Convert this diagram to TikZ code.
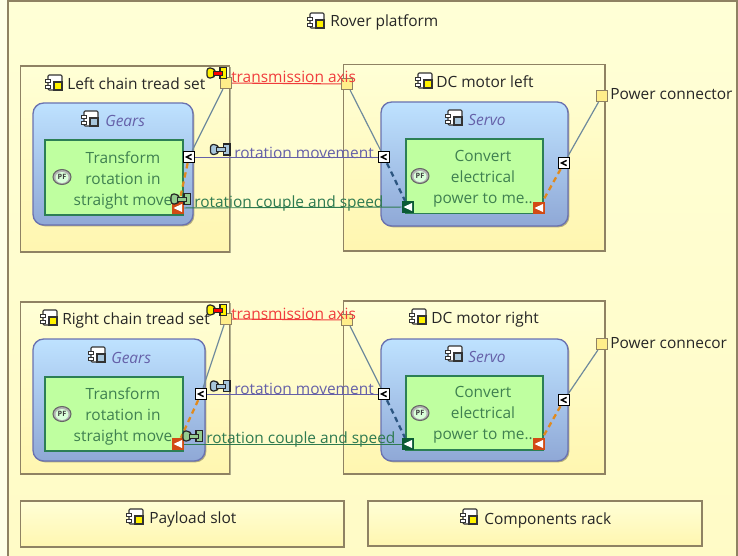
\documentclass[tikz,border=0pt]{standalone}
\usepackage{fontspec}
\setmainfont{Open Sans}
\usetikzlibrary{shadows,calc}
\pgfdeclarelayer{bg}
\pgfdeclarelayer{mid}
\pgfsetlayers{bg,mid,main}
\definecolor{bordbrown}{HTML}{8F8263}
\definecolor{yeltop}{HTML}{FFFFD6}
\definecolor{yelbot}{HTML}{FFF6B0}
\definecolor{rootbot}{HTML}{FFFBC6}
\definecolor{bluetop}{HTML}{BEE2FF}
\definecolor{bluebot}{HTML}{8FA8D6}
\definecolor{blueline}{HTML}{6A72B0}
\definecolor{fungreen}{HTML}{BFFFA0}
\definecolor{fungreenline}{HTML}{2C7F55}
\definecolor{funtext}{HTML}{3F8050}
\definecolor{redlink}{HTML}{F03C3C}
\definecolor{purplelink}{HTML}{6560A8}
\definecolor{greenlink}{HTML}{2E7A50}
\definecolor{greylink}{HTML}{6F8A9C}
\definecolor{orangedash}{HTML}{E08A1E}
\definecolor{bluedash}{HTML}{2C5580}
\definecolor{portyel}{HTML}{FFEE8A}
\definecolor{portred}{HTML}{D24A14}
\definecolor{portgreen}{HTML}{0B5A35}
\definecolor{iconblue}{HTML}{A8C6DC}
\definecolor{icongreen}{HTML}{94CC8E}
\tikzset{
  x=0.75pt,y=-0.75pt,
  txt/.style={inner sep=0pt,font=\fontsize{11.6}{13}\selectfont,text=black!85},
  boxy/.style={draw=bordbrown,line width=1pt,top color=yeltop,bottom color=yelbot,inner sep=0pt,
     drop shadow={shadow xshift=1pt,shadow yshift=-1pt,opacity=.3,fill=black}},
  rootbox/.style={draw=bordbrown,line width=1pt,top color=yeltop,bottom color=rootbot,inner sep=0pt},
  compo/.style={draw=blueline,line width=1pt,rounded corners=8pt,top color=bluetop,bottom color=bluebot,inner sep=0pt,
     drop shadow={shadow xshift=1pt,shadow yshift=-1pt,opacity=.3,fill=black}},
  func/.style={draw=fungreenline,line width=.8pt,fill=fungreen,inner sep=0pt},
  yport/.style={draw=bordbrown,line width=.7pt,fill=portyel,minimum size=8.5pt,inner sep=0pt},
  wport/.style={draw=black,line width=.8pt,fill=white,minimum size=8.5pt,inner sep=0pt},
  tport/.style={fill=#1,minimum size=9pt,inner sep=0pt},
  funcname/.style={txt,text=funtext,align=center,font=\fontsize{11.6}{15.75}\selectfont},
  ital/.style={txt,anchor=west,text=purplelink,font=\fontsize{11.6}{13}\itshape\selectfont},
  lred/.style={redlink,line width=.8pt},
  lpurple/.style={purplelink,line width=.7pt},
  lgreen/.style={greenlink,line width=.7pt},
  lgrey/.style={greylink,line width=.9pt},
  dorange/.style={orangedash,line width=1.7pt,dash pattern=on 4pt off 3pt},
  dblue/.style={bluedash,line width=1.7pt,dash pattern=on 4pt off 3pt},
}
\newcommand{\bx}[7][]{% options, name, style, x1,y1,x2,y2
  \pgfmathsetmacro{\bw}{(#6-#4)*0.75}\pgfmathsetmacro{\bh}{(#7-#5)*0.75}
  \node[#3,minimum width=\bw pt,minimum height=\bh pt,#1] (#2) at ({(#4+#6)/2},{(#5+#7)/2}) {};}
\newcommand{\cicon}[3]{\begin{scope}[shift={(#1,#2)}]
  \draw[black!80,line width=.8pt,fill=white,rounded corners=.8pt] (-6,-8) rectangle (8,7);
  \fill[#3] (0,-1) rectangle (8,7);
  \draw[black!80,line width=.8pt] (0,-1) rectangle (8,7);
  \draw[black!80,line width=.6pt,fill=white] (-9,-4) rectangle (-4,-1);
  \draw[black!80,line width=.6pt,fill=white] (-9,2) rectangle (-4,5);
\end{scope}}
% exchange icon: #3 ends, #4 middle
\newcommand{\xicon}[4]{\begin{scope}[shift={(#1,#2)}]
  \draw[black!85,line width=.9pt,fill=#3,rounded corners=2pt] (-10,-5) -- (-4,-5) -- (-2,-2) -- (-2,2) -- (-4,5) -- (-10,5) -- cycle;
  \draw[black!85,line width=.9pt,fill=#3] (3,-5.5) rectangle (9.5,5.5);
  \draw[black!85,line width=.6pt,fill=#4] (-4,-2) rectangle (5,2);
\end{scope}}
\newcommand{\wchev}[2]{\draw[black,line width=1.1pt] ($(#1)+(#2*2.6,-2.6)$) -- ($(#1)+(-#2*2.6,0)$) -- ($(#1)+(#2*2.6,2.6)$);}
\newcommand{\ttri}[1]{\fill[white] ($(#1)+(4,-4)$) -- ($(#1)+(-4.5,0)$) -- ($(#1)+(4,4)$) -- cycle;}
\newcommand{\pfbadge}[2]{\begin{scope}[shift={(#1,#2)}]
  \draw[black!60,line width=.8pt,fill=black!30] (0,0) ellipse (9 and 7.5);
  \fill[white!85!green] (0,.5) ellipse (6.5 and 5.5);
  \node[inner sep=0pt,font=\fontsize{5.5}{6}\bfseries\selectfont,text=black!75] at (0,.3) {PF};
\end{scope}}
\begin{document}
\begin{tikzpicture}
\useasboundingbox (0,0) rectangle (738,556);
\begin{pgfonlayer}{bg}
\fill[yeltop!60!white] (0,0) rectangle (738,556);
\begin{scope}
\clip (0,0) rectangle (738,556);
\bx{root}{rootbox}{8}{1}{737}{565}
\end{scope}
\bx{lchain}{boxy}{20.5}{66}{229.5}{252}
\bx{dcleft}{boxy}{343.5}{64.5}{605}{251}
\bx{gearsl}{compo}{33}{103}{193}{225}
\bx{servol}{compo}{381}{102}{568}{226}
\bx{funl}{func}{45}{140}{183}{215}
\bx{funm}{func}{406}{139}{543}{213.5}
\bx{rchain}{boxy}{20.5}{302}{229.5}{474}
\bx{dcright}{boxy}{343.5}{301}{605}{474}
\bx{gearsr}{compo}{33}{339}{205}{461}
\bx{servor}{compo}{381}{339}{568}{461}
\bx{funrl}{func}{45}{377}{183}{451}
\bx{funrm}{func}{406}{376}{543}{450}
\bx{payload}{boxy}{20.5}{501}{344}{547}
\bx{rack}{boxy}{368}{501}{702}{546}
\end{pgfonlayer}

% ports
\node[yport] (p1a) at (226,83) {};
\node[yport] (p1b) at (347,84) {};
\node[yport] (pw1) at (602,96) {};
\node[wport] (w1a) at (189,157) {};
\node[wport] (w1b) at (384,157) {};
\node[wport] (w1c) at (564,163) {};
\node[tport=portred] (t1a) at (178,208) {};
\node[tport=portgreen] (t1b) at (408,207) {};
\node[tport=portred] (t1c) at (539,208) {};
\node[yport] (p2a) at (226,319) {};
\node[yport] (p2b) at (347,320) {};
\node[yport] (pw2) at (602,344) {};
\node[wport] (w2a) at (201,394) {};
\node[wport] (w2b) at (384,394) {};
\node[wport] (w2c) at (564,400) {};
\node[tport=portred] (t2a) at (178,444) {};
\node[tport=portgreen] (t2b) at (408,444) {};
\node[tport=portred] (t2c) at (539,444) {};
\wchev{w1a}{1}\wchev{w1b}{1}\wchev{w1c}{1}\wchev{w2a}{1}\wchev{w2b}{1}\wchev{w2c}{1}
\ttri{t1a}\ttri{t1b}\ttri{t1c}\ttri{t2a}\ttri{t2b}\ttri{t2c}

% connectors
\begin{pgfonlayer}{mid}
\draw[lred] (p1a) -- (p1b);
\draw[lred] (p2a) -- (p2b);
\draw[lpurple] (w1a) -- (w1b);
\draw[lpurple] (w2a) -- (w2b);
\draw[lgreen] (t1a) -- (t1b);
\draw[lgreen] (t2a) -- (t2b);
\draw[lgrey] (p1a) -- (w1a);
\draw[lgrey] (p1b) -- (w1b);
\draw[lgrey] (pw1) -- (w1c);
\draw[lgrey] (p2a) -- (w2a);
\draw[lgrey] (p2b) -- (w2b);
\draw[lgrey] (pw2) -- (w2c);
\draw[dorange] (w1a) -- (t1a);
\draw[dblue] (w1b) -- (t1b);
\draw[dorange] (w1c) -- (t1c);
\draw[dorange] (w2a) -- (t2a);
\draw[dblue] (w2b) -- (t2b);
\draw[dorange] (w2c) -- (t2c);
\end{pgfonlayer}

% component icons
\cicon{316}{21}{yellow}
\cicon{54}{83}{yellow}
\cicon{424}{81}{yellow}
\cicon{90}{119}{iconblue}
\cicon{454}{118}{iconblue}
\cicon{49}{318}{yellow}
\cicon{418}{317}{yellow}
\cicon{97}{355}{iconblue}
\cicon{454}{354}{iconblue}
\cicon{135}{517}{yellow}
\cicon{469}{517}{yellow}

% titles
\node[txt,anchor=west] (troot) at (330,22) {Rover platform};
\node[txt,anchor=west] (tlc) at (67,84) {Left chain tread set};
\node[txt,anchor=west] (tdl) at (436,82) {DC motor left};
\node[ital] (tgl) at (105,121) {Gears};
\node[ital] (tsl) at (468,120) {Servo};
\node[txt,anchor=west] (tpw1) at (610,94) {Power connector};
\node[txt,anchor=west] (trc) at (62,320) {Right chain tread set};
\node[txt,anchor=west] (tdr) at (431,319) {DC motor right};
\node[ital] (tgr) at (111,358) {Gears};
\node[ital] (tsr) at (468,357) {Servo};
\node[txt,anchor=west] (tpw2) at (610,343) {Power connecor};
\node[txt,anchor=west] (tpay) at (149,519) {Payload slot};
\node[txt,anchor=west] (track) at (484,520) {Components rack};

% functions
\pfbadge{62}{177}
\pfbadge{420}{176}
\pfbadge{62}{414}
\pfbadge{420}{413}
\node[funcname] (f1) at (123,180) {Transform\\rotation in\\straight move};
\node[funcname] (f2) at (483,179) {Convert\\electrical\\power to me..};
\node[funcname] (f3) at (123,416) {Transform\\rotation in\\straight move};
\node[funcname] (f4) at (483,415) {Convert\\electrical\\power to me..};

% exchange icons and labels
\xicon{217}{73}{yellow}{red}
\xicon{217}{310}{yellow}{red}
\xicon{220.5}{149.5}{iconblue}{iconblue}
\xicon{220.5}{386}{iconblue}{iconblue}
\xicon{181}{199}{icongreen}{icongreen}
\xicon{193}{436}{icongreen}{icongreen}
\node[txt,anchor=west,text=redlink] (l1) at (231,77) {transmission axis};
\node[txt,anchor=west,text=redlink] (l2) at (231,314) {transmission axis};
\node[txt,anchor=west,text=purplelink] (l3) at (234,153) {rotation movement};
\node[txt,anchor=west,text=purplelink] (l4) at (234,389) {rotation movement};
\node[txt,anchor=west,text=greenlink] (l5) at (194,203) {rotation couple and speed};
\node[txt,anchor=west,text=greenlink] (l6) at (206,439) {rotation couple and speed};
\end{tikzpicture}
\end{document}
